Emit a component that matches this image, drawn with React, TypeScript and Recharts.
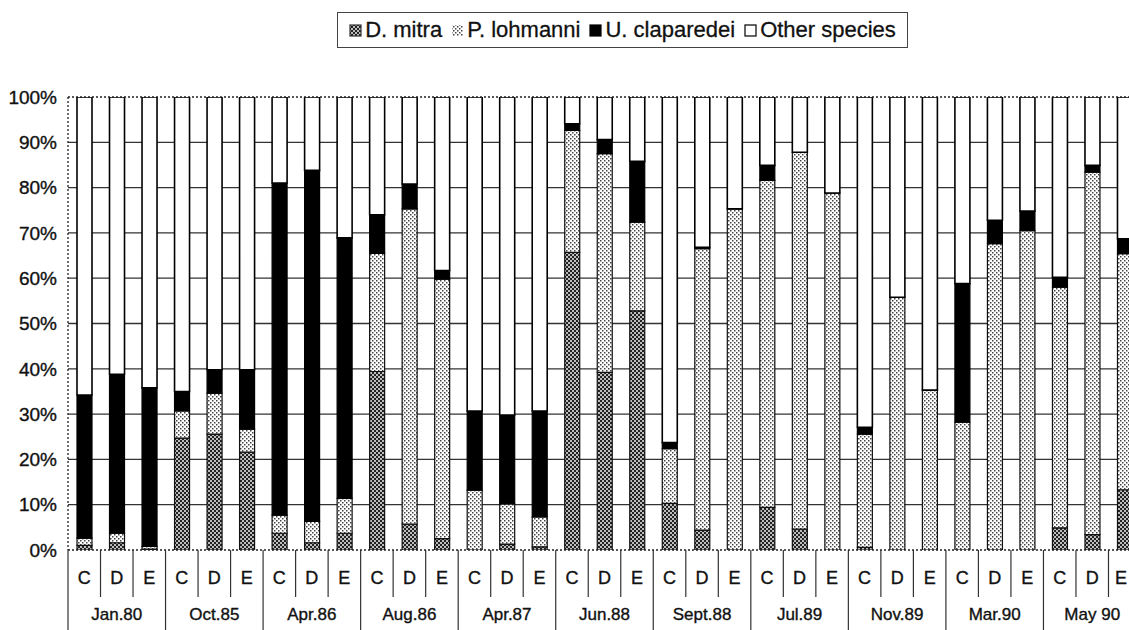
import { BarChart, Bar, XAxis, YAxis, CartesianGrid, ReferenceLine } from "recharts";

// sampling dates, three sites each (C, D, E)
const groups = ["Jan.80", "Oct.85", "Apr.86", "Aug.86", "Apr.87", "Jun.88", "Sept.88", "Jul.89", "Nov.89", "Mar.90", "May 90"];
const sites = ["C", "D", "E"];

// percentage of each species (C, D, E per date)
const dMitra = [
  1.0, 1.6, 0.2, 24.7, 25.6, 21.6, 3.7, 1.6, 3.7, 39.4, 5.7, 2.5, 0.0, 1.3, 0.7, 65.7, 39.2,
  52.8, 10.3, 4.4, 0.0, 9.4, 4.6, 0.0, 0.6, 0.0, 0.0, 0.0, 0.0, 0.0, 4.9, 3.4, 13.3,
];
const pLohmanni = [
  1.6, 2.1, 0.6, 6.0, 9.0, 5.1, 4.0, 4.7, 7.7, 26.1, 69.6, 57.3, 13.2, 8.9, 6.6, 26.9, 48.3,
  19.6, 12.1, 62.1, 75.3, 72.2, 83.2, 78.8, 25.0, 55.8, 35.3, 28.2, 67.6, 70.5, 53.1, 80.0, 52.1,
];
const uClaparedei = [
  31.6, 35.1, 35.0, 4.3, 5.2, 13.1, 73.3, 77.5, 57.5, 8.5, 5.5, 1.9, 17.5, 19.6, 23.4, 1.5, 3.1,
  13.4, 1.3, 0.3, 0.0, 3.3, 0.0, 0.0, 1.5, 0.0, 0.0, 30.6, 5.2, 4.3, 2.2, 1.5, 3.3,
];
const otherSpecies = [
  65.8, 61.2, 64.2, 65.0, 60.2, 60.2, 19.0, 16.2, 31.1, 26.0, 19.2, 38.3, 69.3, 70.2, 69.3, 5.9, 9.4,
  14.2, 76.3, 33.2, 24.7, 15.1, 12.2, 21.2, 72.9, 44.2, 64.7, 41.2, 27.2, 25.2, 39.8, 15.1, 31.3,
];
const yTicks = [0, 10, 20, 30, 40, 50, 60, 70, 80, 90, 100];

const rows = dMitra.map((v, i) => ({
  id: i,
  site: sites[i % 3],
  group: groups[Math.floor(i / 3)],
  dMitra: v,
  pLohmanni: pLohmanni[i],
  uClaparedei: uClaparedei[i],
  other: otherSpecies[i],
}));

const FONT = "'Liberation Sans', Arial, sans-serif";
// the plot runs a little past the right edge of the page, like the scan
const PAGE_W = 1129;
const CHART_W = 1141;
const PLOT_LEFT = 68;
const PLOT_BOTTOM = 550;
const BAND = (CHART_W - PLOT_LEFT) / rows.length;

function Patterns({ suffix = "" }: { suffix?: string }) {
  return (
    <defs>
      <pattern id={"dm" + suffix} width="4" height="4" patternUnits="userSpaceOnUse">
        <rect width="4" height="4" fill="#bdbdbd" />
        <rect x="0" y="0" width="2" height="2" fill="#222" />
        <rect x="2" y="2" width="2" height="2" fill="#222" />
      </pattern>
      <pattern id={"pl" + suffix} width="4" height="4" patternUnits="userSpaceOnUse">
        <rect width="4" height="4" fill="#fff" />
        <rect x="0" y="0" width="1.5" height="1.5" fill="#444" />
        <rect x="2" y="2" width="1.5" height="1.5" fill="#444" />
      </pattern>
    </defs>
  );
}

const textStyle = { fontFamily: FONT, fill: "#111", stroke: "#111", strokeWidth: 0.35 };

function SiteTick(props: any) {
  const { x, payload } = props;
  const i = Number(payload.value);
  const row = rows[i];
  const left = x - BAND / 2;
  // keep the last label inside the page
  const lx = Math.min(x, PAGE_W - 8);
  return (
    <g>
      <line x1={left} x2={left} y1={PLOT_BOTTOM} y2={i % 3 === 0 ? 630 : 597} stroke="#333" strokeWidth={1.2} />
      <text x={lx} y={578} textAnchor="middle" dominantBaseline="central" fontSize={18} {...textStyle}>
        {row.site}
      </text>
      {i % 3 === 1 && (
        <text x={x} y={614} textAnchor="middle" dominantBaseline="central" fontSize={17} {...textStyle}>
          {row.group}
        </text>
      )}
    </g>
  );
}

const legendItems = [
  { label: "D. mitra", fill: "url(#dmL)", border: "#333" },
  { label: "P. lohmanni", fill: "url(#plL)", border: "none" },
  { label: "U. claparedei", fill: "#000", border: "#000" },
  { label: "Other species", fill: "#fff", border: "#000" },
];

export default function App() {
  return (
    <div style={{ position: "absolute", left: 0, top: 0, width: PAGE_W, height: 630, overflow: "hidden", background: "#fff" }}>
      <svg width="0" height="0" style={{ position: "absolute" }}>
        <Patterns />
        <Patterns suffix="L" />
      </svg>
      <div
        style={{
          position: "absolute",
          left: 337,
          top: 12,
          width: 569,
          height: 34,
          border: "1.5px solid #444",
          display: "flex",
          alignItems: "center",
          justifyContent: "center",
          gap: 9,
          fontFamily: FONT,
          fontSize: 22,
          color: "#111",
          WebkitTextStroke: "0.3px #111",
          zIndex: 2,
          background: "#fff",
        }}
      >
        {legendItems.map((it) => (
          <span key={it.label} style={{ display: "flex", alignItems: "center", gap: 3 }}>
            <svg width="13" height="13">
              <rect x="1" y="1" width="11" height="11" fill={it.fill} stroke={it.border} strokeWidth={1.2} />
            </svg>
            {it.label}
          </span>
        ))}
      </div>
      <BarChart width={CHART_W} height={630} data={rows} margin={{ top: 97, right: 0, left: 0, bottom: 0 }} barSize={15}>
        <CartesianGrid vertical={false} horizontalValues={[10, 20, 30, 40, 50, 60, 70, 80, 90]} stroke="#333" strokeWidth={1.3} />
        <XAxis
          dataKey="id"
          type="category"
          interval={0}
          height={80}
          tickLine={false}
          axisLine={{ stroke: "#222", strokeDasharray: "2 2", strokeWidth: 1.3 }}
          tick={<SiteTick />}
        />
        <YAxis
          width={PLOT_LEFT}
          domain={[0, 100]}
          ticks={yTicks}
          allowDataOverflow
          tickLine={false}
          tickSize={0}
          tickMargin={11}
          tickFormatter={(v: number) => v + "%"}
          axisLine={{ stroke: "#222", strokeDasharray: "2 2", strokeWidth: 1.3 }}
          tick={{ fontSize: 19, ...textStyle }}
        />
        <ReferenceLine y={100} stroke="#222" strokeDasharray="2 2" strokeWidth={1.3} />
        <Bar dataKey="dMitra" stackId="a" fill="url(#dm)" stroke="#111" strokeWidth={1.2} isAnimationActive={false} />
        <Bar dataKey="pLohmanni" stackId="a" fill="url(#pl)" stroke="#111" strokeWidth={1.2} isAnimationActive={false} />
        <Bar dataKey="uClaparedei" stackId="a" fill="#000" stroke="#000" strokeWidth={1.2} isAnimationActive={false} />
        <Bar dataKey="other" stackId="a" fill="#fff" stroke="#000" strokeWidth={1.6} isAnimationActive={false} />
      </BarChart>
    </div>
  );
}
